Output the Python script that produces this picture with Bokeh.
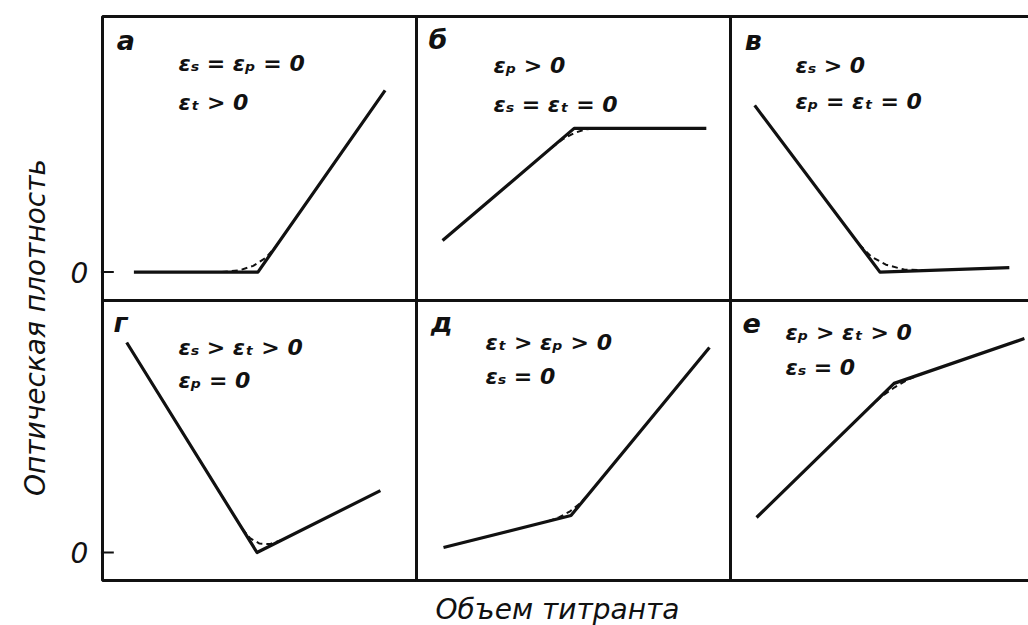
from math import pi

from bokeh.core.properties import value
from bokeh.embed import file_html
from bokeh.models import Range1d
from bokeh.plotting import figure
from bokeh.resources import INLINE

# ---------------------------------------------------------------------------
# Photometric titration curves: optical density vs. titrant volume
# (arbitrary units; volume 0..10 across a panel, density 0 at the "0" tick)
# ---------------------------------------------------------------------------
panel_letters = ["а", "б", "в", "г", "д", "е"]

cond_line1 = ["εₛ = εₚ = 0", "εₚ > 0", "εₛ > 0", "εₛ > εₜ > 0", "εₜ > εₚ > 0", "εₚ > εₜ > 0"]
cond_line2 = ["εₜ > 0", "εₛ = εₜ = 0", "εₚ = εₜ = 0", "εₚ = 0", "εₛ = 0", "εₛ = 0"]

# а: only titrant absorbs
a_vol = [1.0, 4.95, 9.0]
a_od = [0.0, 0.0, 6.4]
a_vol_real = [3.8, 4.35, 4.8, 5.2, 5.5]
a_od_real = [0.0, 0.06, 0.22, 0.5, 0.88]

# б: only product absorbs
b_vol = [0.83, 5.02, 9.23]
b_od = [1.11, 5.06, 5.06]
b_vol_real = [4.3, 4.66, 5.01, 5.36, 5.7]
b_od_real = [4.38, 4.68, 4.89, 5.02, 5.06]

# в: only titrated substance absorbs
v_vol = [0.77, 4.76, 8.88]
v_od = [5.87, 0.0, 0.16]
v_vol_real = [4.1, 4.48, 4.95, 5.53, 6.2]
v_od_real = [0.97, 0.55, 0.26, 0.09, 0.06]

# г: substance and titrant absorb
g_vol = [0.77, 4.92, 8.85]
g_od = [7.5, 0.0, 2.21]
g_vol_real = [4.45, 4.7, 5.0, 5.33, 5.7]
g_od_real = [0.85, 0.51, 0.32, 0.30, 0.44]

# д: titrant absorbs more than product
d_vol = [0.86, 4.92, 9.33]
d_od = [0.18, 1.32, 7.32]
d_vol_real = [4.2, 4.55, 4.89, 5.2, 5.5]
d_od_real = [1.12, 1.26, 1.47, 1.75, 2.11]

# е: product absorbs more than titrant
e_vol = [0.83, 5.21, 9.36]
e_od = [1.25, 6.04, 7.64]
e_vol_real = [4.4, 4.81, 5.23, 5.66, 6.1]
e_od_real = [5.16, 5.57, 5.9, 6.18, 6.38]

zero_tick_label = "0"
x_title = "Объем титранта"
y_title = "Оптическая плотность"

curves = [
    (a_vol, a_od, a_vol_real, a_od_real),
    (b_vol, b_od, b_vol_real, b_od_real),
    (v_vol, v_od, v_vol_real, v_od_real),
    (g_vol, g_od, g_vol_real, g_od_real),
    (d_vol, d_od, d_vol_real, d_od_real),
    (e_vol, e_od, e_vol_real, e_od_real),
]

# ---------------------------------------------------------------------------
# Layout (screen pixels) and styling
# ---------------------------------------------------------------------------
W, H = 1028, 625
LEFT, COL_W = 102, 314                 # left edge of first column, column width
ROWS = [(16, 300), (300, 580)]         # (top, bottom) of each row
X_MIN, X_MAX = 0.0, 10.0               # local volume extent of a panel
Y_MIN, Y_MAX = -1.0, 9.0               # local density extent of a panel

# position of the letter and of the two condition lines, in panel units
letter_pos = [(0.45, 8.15), (0.38, 8.2), (0.45, 8.15), (0.35, 8.2), (0.45, 8.2), (0.38, 8.17)]
cond_pos = [(2.42, 7.35, 5.97), (2.45, 7.27, 5.9), (2.07, 7.27, 6.0),
            (2.42, 7.32, 6.14), (2.2, 7.5, 6.29), (1.75, 7.86, 6.61)]

FONT = value("DejaVu Sans")
INK = "#111111"

p = figure(width=W, height=H, x_range=Range1d(0, W), y_range=Range1d(H, 0),
           x_axis_type=None, y_axis_type=None, output_backend="svg",
           toolbar_location=None, min_border=0, outline_line_color=None,
           background_fill_color="white", border_fill_color="white")

# one pair of scales per column / row so every panel has its own data space
x_ranges, y_ranges = {}, {}
for c in range(3):
    x0 = LEFT + COL_W * c
    upp = (X_MAX - X_MIN) / COL_W
    start = X_MIN - x0 * upp
    x_ranges[f"col{c}"] = Range1d(start, start + W * upp)
for r, (top, bottom) in enumerate(ROWS):
    upp = (Y_MAX - Y_MIN) / (bottom - top)
    y_ranges[f"row{r}"] = Range1d(Y_MIN - (H - bottom) * upp, Y_MAX + top * upp)
p.extra_x_ranges = x_ranges
p.extra_y_ranges = y_ranges

for i, (vol, od, vol_real, od_real) in enumerate(curves):
    r, c = divmod(i, 3)
    kw = dict(x_range_name=f"col{c}", y_range_name=f"row{r}")

    # panel frame
    p.quad(left=X_MIN, right=X_MAX, bottom=Y_MIN, top=Y_MAX, fill_color=None,
           line_color=INK, line_width=3, **kw)

    # ideal (straight-line) titration curve and the real rounded one
    p.line(vol, od, line_color=INK, line_width=3.2, line_join="round", **kw)
    p.line(vol_real, od_real, line_color=INK, line_width=2, line_dash="6 4", **kw)

    lx, ly = letter_pos[i]
    p.text(x=[lx], y=[ly], text=[panel_letters[i]], text_font=FONT,
           text_font_style="bold italic", text_font_size="27px", text_color=INK,
           text_align="left", text_baseline="middle", **kw)

    cx, cy1, cy2 = cond_pos[i]
    p.text(x=[cx, cx], y=[cy1, cy2], text=[cond_line1[i], cond_line2[i]],
           text_font=FONT, text_font_style="bold italic", text_font_size="22px",
           text_color=INK, text_align="left", text_baseline="middle", **kw)

    if c == 0:
        # zero-density tick and its label
        p.segment(x0=-0.05, y0=0, x1=0.36, y1=0, line_color=INK, line_width=2, **kw)
        p.text(x=[-0.45], y=[0], text=[zero_tick_label], text_font=FONT,
               text_font_style="italic", text_font_size="28px", text_color=INK,
               text_align="right", text_baseline="middle", **kw)

# axis titles
p.text(x=[557], y=[609], text=[x_title], text_font=FONT, text_font_style="italic",
       text_font_size="28px", text_color=INK, text_align="center", text_baseline="middle")
p.text(x=[35], y=[327], text=[y_title], angle=pi / 2, text_font=FONT,
       text_font_style="italic", text_font_size="28px", text_color=INK,
       text_align="center", text_baseline="middle")

open("out.html", "w").write(file_html(p, INLINE))
